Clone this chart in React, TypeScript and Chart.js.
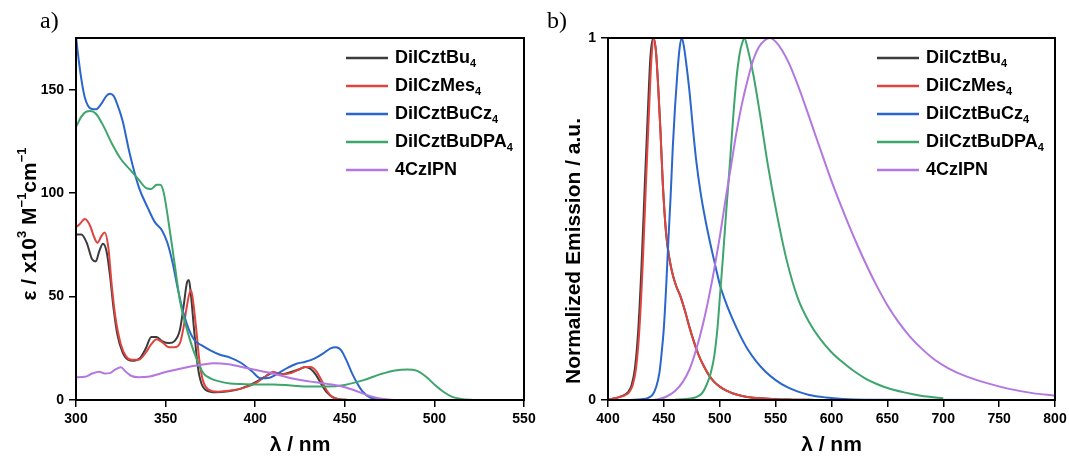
import React, { useEffect, useRef } from "react";
import { Chart, registerables } from "chart.js";

Chart.register(...registerables);

// ---------- legend / series ----------
const seriesNames = ["DiICztBu", "DiICzMes", "DiICztBuCz", "DiICztBuDPA", "4CzIPN"];
const seriesSubs = ["4", "4", "4", "4", ""];
const seriesColors = ["#3c3c3c", "#e0443f", "#2a66cc", "#3ea56c", "#b277e0"];
const seriesOrder = [5, 4, 3, 2, 1];

// ---------- panel a) absorption ----------
const absXTicks = [300, 350, 400, 450, 500, 550];
const absYTicks = [0, 50, 100, 150];

const absBlackX = [300, 303, 306, 309, 311, 313, 315, 317, 319, 321, 323, 326, 329, 332, 336, 339, 342, 345, 348, 352, 355, 358, 360, 362, 363, 364, 366, 368, 370, 373, 378, 385, 392, 400, 405, 410, 415, 420, 425, 428, 431, 434, 437, 440, 443, 446, 450, 455, 550];
const absBlackY = [80, 80, 76, 68, 67, 72, 75.5, 72, 60, 44, 32, 23, 19.5, 19, 20.5, 25, 30.5, 30.5, 28.5, 27.5, 28.5, 34, 45, 57, 58, 52, 33, 16, 8, 4.5, 3.7, 4.2, 5.5, 8.5, 11, 13, 12.5, 13.5, 15, 16, 15, 12, 7.5, 3.7, 1.5, 0.5, 0.1, 0, 0];

const absRedX = [300, 302, 305, 308, 310, 312, 314, 316, 318, 320, 322, 325, 328, 331, 335, 339, 342, 345, 348, 352, 355, 358, 360, 362, 364, 365, 367, 369, 371, 374, 379, 385, 392, 400, 405, 410, 415, 420, 425, 428, 431, 434, 437, 440, 443, 446, 450, 455, 550];
const absRedY = [83.5, 85, 87.5, 84, 79, 76, 79, 81, 74, 55, 40, 27, 21, 19.5, 19.5, 23, 27, 29.4, 28, 25.5, 25.5, 27.5, 35, 46, 53, 50, 35, 18, 9, 5, 4, 4.5, 5.5, 8, 11, 13.5, 12.5, 13, 15, 16, 16, 14, 9.5, 4.5, 1.5, 0.5, 0.1, 0, 0];

const absBlueX = [300, 301, 303, 305, 308, 311, 314, 317, 319, 321, 323, 326, 330, 335, 340, 344, 348, 351, 354, 357, 360, 363, 366, 370, 375, 380, 386, 392, 398, 403, 408, 413, 418, 423, 428, 433, 438, 442, 445, 448, 451, 454, 457, 460, 464, 468, 472, 550];
const absBlueY = [176, 168, 155, 146, 141, 140.5, 143, 147, 148, 147, 143, 135, 119, 103, 93, 86, 82, 76, 66, 53, 42, 34, 29, 26.5, 24, 22, 20.5, 18, 14, 10.5, 10.8, 13, 15.5, 17.5, 18.5, 20, 22.5, 25, 25.5, 24, 19, 13, 8, 4, 1.3, 0.3, 0, 0];

const absGreenX = [300, 303, 306, 308, 311, 315, 320, 325, 330, 335, 339, 342, 345, 347, 349, 352, 355, 358, 361, 364, 367, 371, 375, 380, 386, 392, 400, 410, 420, 430, 440, 450, 460, 470, 478, 485, 490, 495, 500, 505, 510, 515, 520, 525, 550];
const absGreenY = [132, 137, 139.5, 139.7, 138.5, 133, 124, 116.5, 111.5, 106.5, 102.5, 102, 104, 104, 100, 84, 66, 48, 37, 28, 20.5, 13, 10.5, 9, 8, 7.7, 7.5, 7.5, 7, 6.5, 6.5, 7.3, 9.5, 12.5, 14.3, 14.8, 14.2, 11.5, 7.5, 4, 1.5, 0.5, 0.1, 0, 0];

const absPurpleX = [300, 305, 309, 313, 316, 319, 322, 325, 328, 331, 335, 340, 350, 360, 370, 377, 385, 395, 403, 410, 420, 430, 440, 450, 456, 462, 468, 474, 481, 550];
const absPurpleY = [11, 11.2, 12.8, 13.7, 12.8, 13, 14.8, 15.8, 13.5, 11.6, 11, 11.2, 13.5, 15.5, 17, 17.8, 17.3, 15.5, 14, 12.8, 10.5, 9, 7.8, 6.2, 4.5, 2.5, 1, 0.3, 0, 0];

// ---------- panel b) emission ----------
const emXTicks = [400, 450, 500, 550, 600, 650, 700, 750, 800];
const emYTicks = [0, 1];

const emBlackX = [400, 405, 410, 414, 418, 421, 424, 427, 430, 433, 436, 438, 440.5, 443, 445, 447, 449, 452, 455, 458, 461, 465, 469, 473, 477, 481, 485, 490, 495, 500, 506, 512, 520, 530, 540, 550, 565, 580, 600, 800];
const emBlackY = [0, 0.004, 0.008, 0.013, 0.022, 0.04, 0.085, 0.19, 0.37, 0.6, 0.82, 0.95, 1.0, 0.96, 0.86, 0.74, 0.6, 0.46, 0.39, 0.345, 0.315, 0.285, 0.245, 0.2, 0.16, 0.125, 0.098, 0.07, 0.05, 0.037, 0.026, 0.018, 0.011, 0.006, 0.004, 0.002, 0.001, 0.0005, 0, 0];

const emRedX = [400, 405, 410, 415, 419, 422, 425, 428, 431, 434, 437, 439, 441, 443, 445, 447, 449, 452, 455, 458, 461, 465, 469, 473, 477, 481, 485, 490, 495, 500, 506, 512, 520, 530, 540, 550, 565, 580, 600, 800];
const emRedY = [0, 0.004, 0.008, 0.013, 0.022, 0.04, 0.085, 0.19, 0.37, 0.6, 0.82, 0.95, 1.0, 0.96, 0.86, 0.74, 0.6, 0.46, 0.39, 0.345, 0.315, 0.285, 0.245, 0.2, 0.16, 0.125, 0.098, 0.07, 0.05, 0.037, 0.026, 0.018, 0.011, 0.006, 0.004, 0.002, 0.001, 0.0005, 0, 0];

const emBlueX = [420, 430, 436, 440, 443, 446, 448, 450, 452, 454, 456, 458, 460, 462, 464, 466, 468, 470, 473, 476, 479, 483, 487, 491, 495, 500, 506, 512, 518, 525, 533, 541, 550, 560, 570, 580, 595, 610, 630, 800];
const emBlueY = [0, 0.002, 0.006, 0.015, 0.035, 0.075, 0.13, 0.2, 0.31, 0.44, 0.56, 0.7, 0.81, 0.9, 0.97, 1.0, 0.975, 0.93, 0.85, 0.75, 0.66, 0.57, 0.5, 0.44, 0.385, 0.32, 0.265, 0.22, 0.18, 0.14, 0.105, 0.078, 0.055, 0.036, 0.023, 0.014, 0.007, 0.003, 0.001, 0];

const emGreenX = [460, 470, 478, 484, 488, 492, 495, 498, 500, 503, 506, 509, 512, 515, 518, 520, 522, 525, 530, 536, 543, 551, 560, 570, 580, 590, 600, 610, 620, 630, 640, 650, 665, 680, 700];
const emGreenY = [0.001, 0.003, 0.007, 0.018, 0.04, 0.075, 0.12, 0.2, 0.28, 0.4, 0.53, 0.65, 0.78, 0.89, 0.96, 0.985, 1.0, 0.97, 0.9, 0.79, 0.65, 0.515, 0.385, 0.28, 0.215, 0.168, 0.132, 0.104, 0.08, 0.06, 0.045, 0.033, 0.021, 0.012, 0.005];

const emPurpleX = [440, 445, 452, 460, 467, 473, 479, 485, 490, 495, 500, 505, 510, 515, 520, 525, 530, 535, 540, 545, 550, 556, 562, 568, 574, 580, 586, 592, 598, 604, 610, 617, 624, 632, 640, 650, 660, 670, 680, 692, 705, 720, 740, 760, 780, 800];
const emPurpleY = [0, 0.002, 0.009, 0.025, 0.05, 0.085, 0.14, 0.21, 0.28, 0.36, 0.45, 0.55, 0.645, 0.74, 0.82, 0.885, 0.94, 0.975, 0.993, 1.0, 0.99, 0.965, 0.93, 0.885, 0.835, 0.782, 0.728, 0.675, 0.622, 0.572, 0.525, 0.472, 0.422, 0.368, 0.318, 0.262, 0.215, 0.176, 0.144, 0.112, 0.087, 0.066, 0.046, 0.03, 0.019, 0.012];

// ---------- drawing helpers ----------
const SANS = '"Liberation Sans", Arial, Helvetica, sans-serif';
const SERIF = '"Liberation Serif", "Times New Roman", serif';

type Seg = { t: string; s?: "sup" | "sub" };

function richWidth(ctx: CanvasRenderingContext2D, segs: Seg[], size: number) {
  let w = 0;
  for (const sg of segs) {
    ctx.font = `bold ${sg.s ? Math.round(size * 0.62) : size}px ${SANS}`;
    w += ctx.measureText(sg.t).width;
  }
  return w;
}

function drawRich(ctx: CanvasRenderingContext2D, segs: Seg[], x: number, y: number, size: number, align: "left" | "center") {
  const w = richWidth(ctx, segs, size);
  let cx = align === "center" ? x - w / 2 : x;
  ctx.textAlign = "left";
  ctx.textBaseline = "middle";
  for (const sg of segs) {
    const sz = sg.s ? Math.round(size * 0.62) : size;
    ctx.font = `bold ${sz}px ${SANS}`;
    const dy = sg.s === "sup" ? -size * 0.36 : sg.s === "sub" ? size * 0.33 : 0;
    ctx.fillText(sg.t, cx, y + dy);
    cx += ctx.measureText(sg.t).width;
  }
}

type Decor = {
  panel: string;
  panelX: number;
  yTitle: Seg[];
  yTitleX: number;
  yTitleY: number;
  xTitle: Seg[];
};

function makeDecor(d: Decor) {
  return {
    id: "decor",
    afterDatasetsDraw(chart: any) {
      const ctx: CanvasRenderingContext2D = chart.ctx;
      const a = chart.chartArea;
      ctx.save();
      // frame
      ctx.strokeStyle = "#000";
      ctx.lineWidth = 2;
      ctx.strokeRect(a.left, a.top, a.right - a.left, a.bottom - a.top);
      // legend
      for (let i = 0; i < seriesNames.length; i++) {
        const y = a.top + 20 + i * 28;
        ctx.strokeStyle = seriesColors[i];
        ctx.lineWidth = 2.5;
        ctx.beginPath();
        ctx.moveTo(a.right - 178, y);
        ctx.lineTo(a.right - 136, y);
        ctx.stroke();
        ctx.fillStyle = "#000";
        const segs: Seg[] = [{ t: seriesNames[i] }];
        if (seriesSubs[i]) segs.push({ t: seriesSubs[i], s: "sub" });
        drawRich(ctx, segs, a.right - 129, y, 18, "left");
      }
      // axis titles
      ctx.fillStyle = "#000";
      drawRich(ctx, d.xTitle, (a.left + a.right) / 2, 445, 21, "center");
      ctx.save();
      ctx.translate(d.yTitleX, d.yTitleY);
      ctx.rotate(-Math.PI / 2);
      drawRich(ctx, d.yTitle, 0, 0, 21, "center");
      ctx.restore();
      // panel label
      ctx.font = `24px ${SERIF}`;
      ctx.textAlign = "left";
      ctx.textBaseline = "alphabetic";
      ctx.fillText(d.panel, d.panelX, 28);
      ctx.restore();
    },
  };
}

function mkDataset(i: number, xs: number[], ys: number[]) {
  return {
    label: seriesNames[i] + seriesSubs[i],
    data: xs.map((x, k) => ({ x, y: ys[k] })),
    borderColor: seriesColors[i],
    backgroundColor: seriesColors[i],
    borderWidth: 2,
    pointRadius: 0,
    fill: false,
    cubicInterpolationMode: "monotone" as const,
    order: seriesOrder[i],
  };
}

function makeConfig(opts: {
  datasets: any[];
  xMin: number;
  xMax: number;
  xTicks: number[];
  yMin: number;
  yMax: number;
  yTicks: number[];
  yWidth: number;
  padRight: number;
  decor: Decor;
}) {
  const tickFont = { family: SANS, size: 14, weight: "bold" as const };
  const grid = {
    display: true,
    drawOnChartArea: false,
    drawTicks: true,
    tickLength: 7,
    color: "#000",
    lineWidth: 1.5,
  };
  return {
    type: "line" as const,
    data: { datasets: opts.datasets },
    options: {
      responsive: false,
      animation: false as const,
      devicePixelRatio: 1,
      layout: { padding: { left: 0, right: opts.padRight, top: 38, bottom: 0 } },
      plugins: { legend: { display: false }, tooltip: { enabled: false }, title: { display: false } },
      scales: {
        x: {
          type: "linear" as const,
          min: opts.xMin,
          max: opts.xMax,
          afterBuildTicks: (s: any) => {
            s.ticks = opts.xTicks.map((v) => ({ value: v }));
          },
          ticks: { font: tickFont, color: "#000", padding: 4, maxRotation: 0, autoSkip: false },
          grid,
          border: { display: false },
          afterFit: (s: any) => {
            s.height = 60;
            s.paddingLeft = 0;
            s.paddingRight = 0;
          },
        },
        y: {
          type: "linear" as const,
          min: opts.yMin,
          max: opts.yMax,
          afterBuildTicks: (s: any) => {
            s.ticks = opts.yTicks.map((v) => ({ value: v }));
          },
          ticks: { font: tickFont, color: "#000", padding: 5 },
          grid,
          border: { display: false },
          afterFit: (s: any) => {
            s.width = opts.yWidth;
            s.paddingTop = 0;
            s.paddingBottom = 0;
          },
        },
      },
    },
    plugins: [makeDecor(opts.decor)],
  };
}

function ChartCanvas({ config, left, width }: { config: any; left: number; width: number }) {
  const ref = useRef<HTMLCanvasElement>(null);
  useEffect(() => {
    const chart = new Chart(ref.current as HTMLCanvasElement, config);
    return () => chart.destroy();
  }, []);
  return (
    <canvas
      ref={ref}
      width={width}
      height={460}
      style={{ position: "absolute", left, top: 0, width, height: 460, display: "block" }}
    />
  );
}

export default function App() {
  const absConfig = makeConfig({
    datasets: [
      mkDataset(0, absBlackX, absBlackY),
      mkDataset(1, absRedX, absRedY),
      mkDataset(2, absBlueX, absBlueY),
      mkDataset(3, absGreenX, absGreenY),
      mkDataset(4, absPurpleX, absPurpleY),
    ],
    xMin: 300,
    xMax: 550,
    xTicks: absXTicks,
    yMin: 0,
    yMax: 175,
    yTicks: absYTicks,
    yWidth: 76,
    padRight: 16,
    decor: {
      panel: "a)",
      panelX: 40,
      yTitle: [{ t: "ε / x10" }, { t: "3", s: "sup" }, { t: " M" }, { t: "−1", s: "sup" }, { t: "cm" }, { t: "−1", s: "sup" }],
      yTitleX: 30,
      yTitleY: 224,
      xTitle: [{ t: "λ / nm" }],
    },
  });

  const emConfig = makeConfig({
    datasets: [
      mkDataset(0, emBlackX, emBlackY),
      mkDataset(1, emRedX, emRedY),
      mkDataset(2, emBlueX, emBlueY),
      mkDataset(3, emGreenX, emGreenY),
      mkDataset(4, emPurpleX, emPurpleY),
    ],
    xMin: 400,
    xMax: 800,
    xTicks: emXTicks,
    yMin: 0,
    yMax: 1,
    yTicks: emYTicks,
    yWidth: 68,
    padRight: 14,
    decor: {
      panel: "b)",
      panelX: 7,
      yTitle: [{ t: "Normalized Emission / a.u." }],
      yTitleX: 34,
      yTitleY: 251,
      xTitle: [{ t: "λ / nm" }],
    },
  });

  return (
    <div style={{ position: "absolute", left: 0, top: 0, width: 1069, height: 460, background: "#fff" }}>
      <ChartCanvas config={absConfig} left={0} width={540} />
      <ChartCanvas config={emConfig} left={540} width={529} />
    </div>
  );
}
